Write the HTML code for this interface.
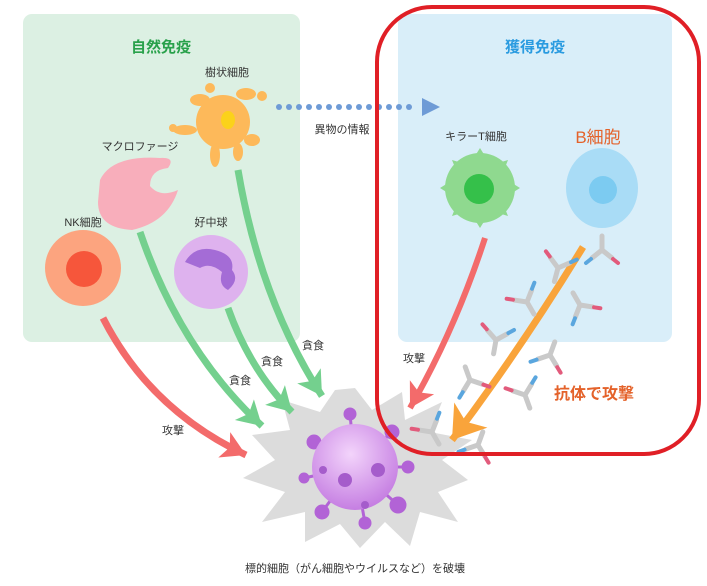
<!DOCTYPE html>
<html><head><meta charset="utf-8"><style>
html,body{margin:0;padding:0;background:#fff;}
svg{display:block;}
text{font-family:"Liberation Sans","Noto Sans CJK JP",sans-serif;}
</style></head><body>
<svg width="707" height="586" viewBox="0 0 707 586" xmlns="http://www.w3.org/2000/svg">
<defs>
<marker id="mg" markerUnits="userSpaceOnUse" markerWidth="40" markerHeight="40" refX="22" refY="0" viewBox="-4 -20 30 40" orient="auto"><path d="M-2,-14 L22,0 L-2,14 L4,0 z" fill="#74d08e"/></marker>
<marker id="mr" markerUnits="userSpaceOnUse" markerWidth="40" markerHeight="40" refX="22" refY="0" viewBox="-4 -20 30 40" orient="auto"><path d="M-2,-14 L22,0 L-2,14 L4,0 z" fill="#f36b6b"/></marker>
<marker id="mo" markerUnits="userSpaceOnUse" markerWidth="50" markerHeight="50" refX="28" refY="0" viewBox="-4 -24 36 48" orient="auto"><path d="M-2,-20 L28,0 L-2,20 L6,0 z" fill="#f9a43b"/></marker>
<radialGradient id="gv" cx="0.45" cy="0.35" r="0.7"><stop offset="0" stop-color="#f3d4fb"/><stop offset="1" stop-color="#c278e0"/></radialGradient>
<g id="ab">
 <path d="M0,0 L0,14 M0,0 L-10,-8 M0,0 L10,-8" stroke="#c9c9c9" stroke-width="5" stroke-linecap="round" fill="none"/>
 <path d="M-11,-9 l-5,-4" stroke="#e25b7c" stroke-width="4" stroke-linecap="round"/>
 <path d="M11,-9 l5,-4" stroke="#5aa6de" stroke-width="4" stroke-linecap="round"/>
</g>
</defs>

<rect x="23" y="14" width="277" height="328" rx="9" fill="#dcf0e3"/>
<rect x="398" y="14" width="274" height="328" rx="9" fill="#d9eef9"/>
<text x="161" y="52" font-size="15" font-weight="bold" fill="#29a14b" text-anchor="middle">自然免疫</text>
<text x="535" y="52" font-size="15" font-weight="bold" fill="#2a9be0" text-anchor="middle">獲得免疫</text>

<polygon fill="#dcdcdc" points="355,388 372,410 402,392 405,420 442,402 430,432 472,440 442,460 468,480 438,492 458,522 420,512 410,546 385,522 360,548 340,524 305,542 305,512 262,522 285,492 243,478 275,460 252,435 290,430 282,400 320,412 335,390"/>

<path d="M238,170 Q260,300 322,396" stroke="#74d08e" stroke-width="7" fill="none" marker-end="url(#mg)"/>
<path d="M140,232 Q180,350 262,426" stroke="#74d08e" stroke-width="7" fill="none" marker-end="url(#mg)"/>
<path d="M228,308 Q250,370 292,412" stroke="#74d08e" stroke-width="7" fill="none" marker-end="url(#mg)"/>
<path d="M103,318 Q150,410 246,455" stroke="#f36b6b" stroke-width="7" fill="none" marker-end="url(#mr)"/>
<path d="M485,238 Q455,330 410,408" stroke="#f36b6b" stroke-width="6" fill="none" marker-end="url(#mr)"/>
<path d="M583,247 Q520,350 452,440" stroke="#f9a43b" stroke-width="7" fill="none" marker-end="url(#mo)"/>

<g fill="#6e9bd6">
<circle cx="279" cy="107" r="3"/><circle cx="289" cy="107" r="3"/><circle cx="299" cy="107" r="3"/><circle cx="309" cy="107" r="3"/><circle cx="319" cy="107" r="3"/><circle cx="329" cy="107" r="3"/><circle cx="339" cy="107" r="3"/><circle cx="349" cy="107" r="3"/><circle cx="359" cy="107" r="3"/><circle cx="369" cy="107" r="3"/><circle cx="379" cy="107" r="3"/><circle cx="389" cy="107" r="3"/><circle cx="399" cy="107" r="3"/><circle cx="409" cy="107" r="3"/>
<polygon points="422,98 440,107 422,116"/>
</g>
<text x="342" y="133" font-size="11" fill="#333" text-anchor="middle">異物の情報</text>

<g fill="#fdb95a">
<circle cx="223" cy="122" r="27"/>
<ellipse cx="200" cy="100" rx="10" ry="6"/><ellipse cx="246" cy="94" rx="10" ry="6"/><ellipse cx="185" cy="130" rx="12" ry="5"/><ellipse cx="252" cy="140" rx="8" ry="6"/><ellipse cx="215" cy="155" rx="5" ry="12"/><ellipse cx="238" cy="152" rx="5" ry="9"/><circle cx="262" cy="96" r="5"/><circle cx="173" cy="128" r="4"/><circle cx="210" cy="88" r="5"/>
</g>
<ellipse cx="228" cy="120" rx="7" ry="9" fill="#fbd21a"/>
<text x="227" y="76" font-size="11" fill="#333" text-anchor="middle">樹状細胞</text>

<path d="M100,180 Q112,155 160,158 Q176,157 168,168 Q150,170 150,186 Q160,198 178,190 Q168,222 132,230 Q98,228 98,202 Z" fill="#f8aebb"/>
<text x="140" y="150" font-size="11" fill="#333" text-anchor="middle">マクロファージ</text>

<circle cx="83" cy="268" r="38" fill="#fca47f"/>
<circle cx="84" cy="269" r="18" fill="#f5492f" opacity="0.85"/>
<text x="83" y="226" font-size="11" fill="#333" text-anchor="middle">NK細胞</text>

<circle cx="211" cy="272" r="37" fill="#deb2ee"/>
<path d="M185,262 Q195,245 215,250 Q235,255 232,270 Q240,280 228,290 Q218,285 222,272 Q210,262 200,268 Z" fill="#a46cd6"/>
<text x="211" y="226" font-size="11" fill="#333" text-anchor="middle">好中球</text>

<circle cx="480" cy="188" r="35" fill="#8fd98f"/>
<g fill="#8fd98f"><polygon points="480,148 485,156 475,156"/><polygon points="480,228 485,220 475,220"/><polygon points="440,188 448,183 448,193"/><polygon points="520,188 512,183 512,193"/><polygon points="452,160 462,163 456,170"/><polygon points="508,160 498,163 504,170"/><polygon points="452,216 462,213 456,206"/><polygon points="508,216 498,213 504,206"/></g>
<circle cx="479" cy="189" r="15" fill="#35c04a"/>
<text x="476" y="140" font-size="11" fill="#333" text-anchor="middle">キラーT細胞</text>

<ellipse cx="602" cy="188" rx="36" ry="40" fill="#a9dcf6"/>
<circle cx="603" cy="190" r="14" fill="#7ccbf1"/>
<text x="598" y="143" font-size="17" fill="#e4622a" text-anchor="middle">B細胞</text>

<use href="#ab" transform="translate(602,250) rotate(180)"/>
<use href="#ab" transform="translate(558,268) rotate(15)"/>
<use href="#ab" transform="translate(527,302) rotate(-30)"/>
<use href="#ab" transform="translate(580,305) rotate(150)"/>
<use href="#ab" transform="translate(496,340) rotate(10)"/>
<use href="#ab" transform="translate(550,355) rotate(200)"/>
<use href="#ab" transform="translate(470,380) rotate(160)"/>
<use href="#ab" transform="translate(525,395) rotate(-20)"/>
<use href="#ab" transform="translate(432,432) rotate(-30)"/>
<use href="#ab" transform="translate(478,445) rotate(200)"/>

<g stroke="#b263d6" stroke-width="3" fill="#b263d6">
<line x1="355" y1="467" x2="350" y2="414"/><circle cx="350" cy="414" r="5"/>
<line x1="355" y1="467" x2="314" y2="442"/><circle cx="314" cy="442" r="6"/>
<line x1="355" y1="467" x2="304" y2="478"/><circle cx="304" cy="478" r="4"/>
<line x1="355" y1="467" x2="322" y2="512"/><circle cx="322" cy="512" r="6"/>
<line x1="355" y1="467" x2="365" y2="523"/><circle cx="365" cy="523" r="5"/>
<line x1="355" y1="467" x2="398" y2="505"/><circle cx="398" cy="505" r="7"/>
<line x1="355" y1="467" x2="408" y2="467"/><circle cx="408" cy="467" r="5"/>
<line x1="355" y1="467" x2="392" y2="432"/><circle cx="392" cy="432" r="6"/>
</g>
<circle cx="355" cy="467" r="43" fill="url(#gv)"/>
<g fill="#a55ccb"><circle cx="345" cy="480" r="7"/><circle cx="378" cy="470" r="7"/><circle cx="323" cy="470" r="4"/><circle cx="365" cy="505" r="4"/></g>

<rect x="377" y="7" width="322" height="447" rx="55" fill="none" stroke="#e01f26" stroke-width="4"/>

<text x="313" y="349" font-size="11" fill="#333" text-anchor="middle">貪食</text>
<text x="272" y="365" font-size="11" fill="#333" text-anchor="middle">貪食</text>
<text x="240" y="384" font-size="11" fill="#333" text-anchor="middle">貪食</text>
<text x="173" y="434" font-size="11" fill="#333" text-anchor="middle">攻撃</text>
<text x="414" y="362" font-size="11" fill="#333" text-anchor="middle">攻撃</text>
<text x="594" y="399" font-size="16" font-weight="bold" fill="#e4622a" text-anchor="middle">抗体で攻撃</text>
<text x="355" y="572" font-size="11" fill="#333" text-anchor="middle">標的細胞（がん細胞やウイルスなど）を破壊</text>
</svg>
</body></html>
